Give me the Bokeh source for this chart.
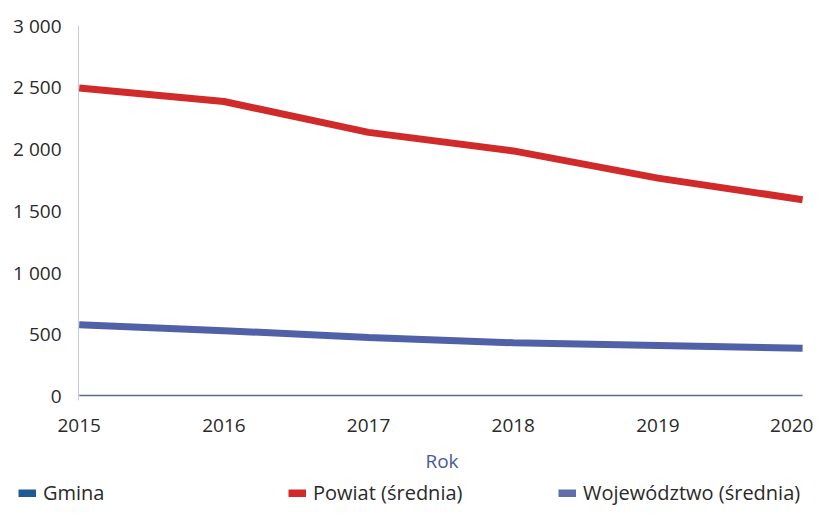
from bokeh.plotting import figure
from bokeh.models import Range1d, FixedTicker, Legend, LegendItem
from bokeh.layouts import column
from bokeh.embed import file_html
from bokeh.resources import INLINE

years = [2015, 2016, 2017, 2018, 2019, 2020]
gmina = [5, 5, 5, 5, 5, 5]
powiat = [2495, 2385, 2135, 1985, 1765, 1590]
wojewodztwo = [578, 530, 475, 432, 410, 388]
y_ticks = [0, 500, 1000, 1500, 2000, 2500, 3000]
y_tick_labels = ["0", "500", "1 000", "1 500", "2 000", "2 500", "3 000"]
x_tick_labels = ["2015", "2016", "2017", "2018", "2019", "2020"]
series_names = ["Gmina", "Powiat (średnia)", "Województwo (średnia)"]
series_colors = ["#1f5a94", "#d02a2a", "#5d6ea9"]

FONT = "Open Sans"

p = figure(width=813, height=476, output_backend="svg", toolbar_location=None,
           x_range=Range1d(2014.995, 2020.02), y_range=Range1d(-35, 3000),
           min_border_left=78, min_border_right=8, min_border_top=25,
           min_border_bottom=76)
p.outline_line_color = None
p.xgrid.visible = False
p.ygrid.visible = False
p.background_fill_color = "white"
p.border_fill_color = "white"
p.frame_align = False

r_g = p.line(years, gmina, line_color="#5a6b90", line_width=1.5)
r_p = p.line(years, powiat, line_color="#d02a2a", line_width=7)
r_w = p.line(years, wojewodztwo, line_color="#5061a8", line_width=7)

p.yaxis.ticker = FixedTicker(ticks=y_ticks)
p.yaxis.major_label_overrides = {t: l for t, l in zip(y_ticks, y_tick_labels)}
p.xaxis.ticker = FixedTicker(ticks=years)
p.xaxis.major_label_overrides = {y: l for y, l in zip(years, x_tick_labels)}

for ax in (p.xaxis[0], p.yaxis[0]):
    ax.major_tick_line_color = None
    ax.minor_tick_line_color = None
    ax.major_label_text_font = FONT
    ax.major_label_text_font_size = "19px"
    ax.major_label_text_color = "#2a2a2a"

p.yaxis.axis_line_color = "#c9c9e0"
p.yaxis.major_label_standoff = 11
p.xaxis.axis_line_color = None
p.xaxis.major_label_standoff = 12
p.xaxis.axis_label = "Rok"
p.xaxis.axis_label_text_font = FONT
p.xaxis.axis_label_text_font_style = "normal"
p.xaxis.axis_label_text_font_size = "19px"
p.xaxis.axis_label_text_color = "#4a5a9a"
p.xaxis.axis_label_standoff = 13

# legend strip below the chart (series drawn out of its view, used only as swatches)
lf = figure(width=813, height=32, output_backend="svg", toolbar_location=None,
            x_axis_type=None, y_axis_type=None,
            x_range=Range1d(0, 1), y_range=Range1d(0, 1),
            min_border_left=0, min_border_right=0, min_border_top=0,
            min_border_bottom=0)
lf.frame_align = False
lf.outline_line_color = None
lf.xgrid.visible = False
lf.ygrid.visible = False
lf.background_fill_color = "white"
lf.border_fill_color = "white"

swatches = [lf.line(years, vals, line_color=c, line_width=8)
            for vals, c in zip([gmina, powiat, wojewodztwo], series_colors)]
legend = Legend(items=[LegendItem(label=n, renderers=[r])
                       for n, r in zip(series_names, swatches)],
                location=(18, 2), orientation="horizontal",
                glyph_width=18, glyph_height=8, label_standoff=7,
                label_width=232, spacing=13,
                label_text_font=FONT, label_text_font_size="20px",
                label_text_color="#2a2a2a", padding=0, margin=0,
                border_line_color=None, background_fill_alpha=0,
                label_height=24)
lf.add_layout(legend, "center")

layout = column(p, lf, spacing=0)
open("out.html", "w").write(file_html(layout, INLINE))
